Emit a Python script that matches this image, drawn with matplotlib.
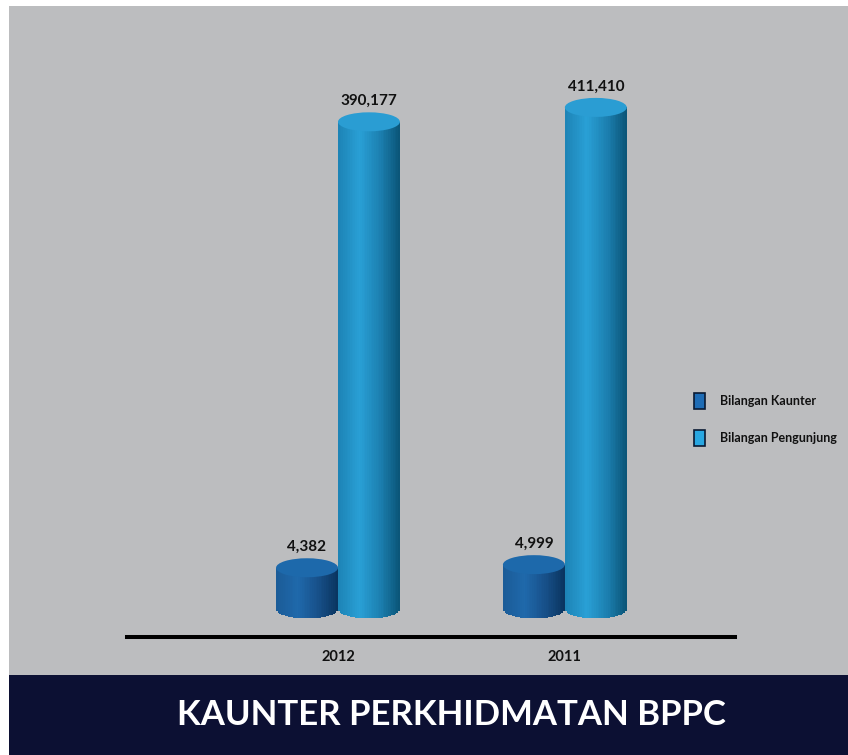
import numpy as np
import matplotlib
matplotlib.use("Agg")
import matplotlib.pyplot as plt
import matplotlib.transforms as mtransforms
from matplotlib.patches import Rectangle, Ellipse, Patch
from matplotlib.colors import LinearSegmentedColormap

# ---- data ----
years = ["2012", "2011"]
series_names = ["Bilangan Kaunter", "Bilangan Pengunjung"]
kaunter = [4382, 4999]
pengunjung = [390177, 411410]
title = "KAUNTER PERKHIDMATAN BPPC"

plt.rcParams['font.family'] = ['Lato', 'DejaVu Sans']

W, H, DPI = 848, 755, 100
fig = plt.figure(figsize=(W / DPI, H / DPI), dpi=DPI, facecolor="white")

# background panels
fig.add_artist(Rectangle((9 / W, 80 / H), 1 - 9 / W, (675 - 6) / H, transform=fig.transFigure,
                         facecolor="#bcbdbf", edgecolor="none", zorder=0))
fig.add_artist(Rectangle((9 / W, 0), 1 - 9 / W, 80 / H, transform=fig.transFigure,
                         facecolor="#0c1033", edgecolor="none", zorder=0))
fig.text(451 / W, 40 / H, title, color="white", fontsize=25, fontweight="bold",
         ha="center", va="center")

ax = fig.add_axes([127 / W, (H - 609) / H, (735 - 127) / W, (609 - 6) / H])
ax.set_facecolor("none")

p = 0.55
fwd = lambda v: np.sign(v) * np.abs(v) ** p
inv = lambda v: np.sign(v) * np.abs(v) ** (1 / p)
ax.set_yscale("function", functions=(fwd, inv))
ax.set_ylim(0, 575000)
ax.set_xlim(-0.93, 1.75)

for s in ["left", "right", "top"]:
    ax.spines[s].set_visible(False)
ax.spines["bottom"].set_position(("outward", 20.5))
ax.spines["bottom"].set_linewidth(2.9)
ax.spines["bottom"].set_color("black")
ax.set_yticks([])
x = np.arange(len(years))
ax.set_xticks(x)
ax.set_xticklabels(years, fontsize=10.5, fontweight="bold", color="#111111")
ax.tick_params(axis="x", length=0, pad=9)

bw = 0.273
styles = {
    "Bilangan Kaunter": dict(
        cmap=LinearSegmentedColormap.from_list("k", [(0, "#1b5c98"), (0.35, "#1f69ab"), (0.7, "#174f88"), (1, "#0a3560")]),
        top="#1d69ab", legend="#1e6cb5"),
    "Bilangan Pengunjung": dict(
        cmap=LinearSegmentedColormap.from_list("p", [(0, "#1d84b6"), (0.35, "#29a0d6"), (0.7, "#1b7eae"), (1, "#0b5679")]),
        top="#2a9dd3", legend="#29a7e1"),
}

NS = 36
ell_h = 19  # pixels


def cylinder(xc, v, st, label_txt):
    cm = st["cmap"]
    edges = np.linspace(xc - bw / 2, xc + bw / 2, NS + 1)
    centers = (edges[:-1] + edges[1:]) / 2
    dx = edges[1] - edges[0]
    cols = [cm(i / (NS - 1)) for i in range(NS)]
    ax.bar(centers, [v] * NS, width=dx * 1.02, color=cols, edgecolor="none", zorder=2)
    # bottom cap
    base_tr = mtransforms.blended_transform_factory(
        ax.transData, mtransforms.ScaledTranslation(0, 0, ax.transData))
    for c, col in zip(centers, cols):
        u = (c - xc) / (bw / 2)
        hh = ell_h / 2 * np.sqrt(max(0.0, 1 - u * u))
        ax.add_patch(Rectangle((c - dx * 0.51, -hh), dx * 1.02, 2 * hh, transform=base_tr,
                               facecolor=col, edgecolor="none", zorder=2, clip_on=False))
    # top cap
    top_tr = mtransforms.blended_transform_factory(
        ax.transData, mtransforms.ScaledTranslation(0, v, ax.transData))
    ax.add_patch(Ellipse((xc, 0), bw, ell_h, transform=top_tr, facecolor=st["top"],
                         edgecolor="none", zorder=3, clip_on=False))
    ax.annotate(label_txt, xy=(xc, v), xytext=(0, 10), textcoords="offset points",
                ha="center", va="bottom", fontsize=11, fontweight="bold", color="#111111",
                annotation_clip=False)


for i in range(len(years)):
    cylinder(x[i] - bw / 2, kaunter[i], styles["Bilangan Kaunter"], f"{kaunter[i]:,}")
    cylinder(x[i] + bw / 2, pengunjung[i], styles["Bilangan Pengunjung"], f"{pengunjung[i]:,}")

handles = [Patch(facecolor=styles[n]["legend"], edgecolor="#0a1a33", linewidth=1.2) for n in series_names]
leg = fig.legend(handles, series_names, loc="upper left", bbox_to_anchor=(694 / W, 1 - 393 / H),
                 frameon=False, fontsize=9, handlelength=0.85, handleheight=1.6,
                 handletextpad=1.2, labelspacing=1.7, borderpad=0, borderaxespad=0)
for t in leg.get_texts():
    t.set_fontweight("bold")
    t.set_color("#111111")

fig.savefig("out.png", dpi=DPI, facecolor="white")
